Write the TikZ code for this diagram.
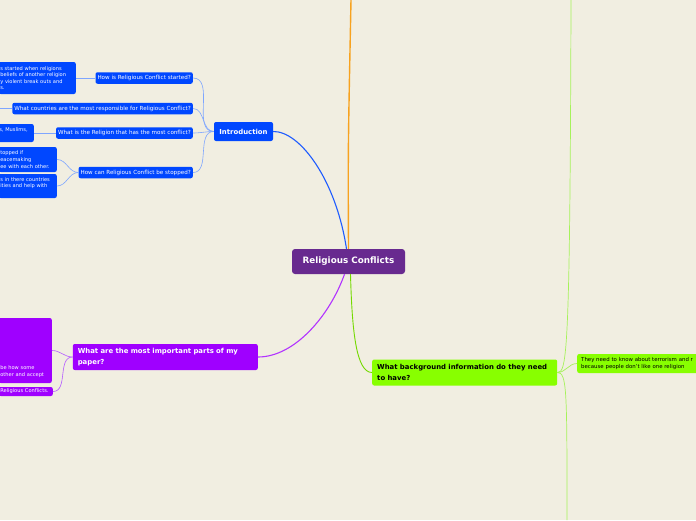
\documentclass[tikz,border=0pt]{standalone}
\usepackage{fontspec}
\setmainfont{DejaVu Sans}
\usetikzlibrary{positioning}
\definecolor{paperbg}{HTML}{F1EEE1}
\definecolor{rootpurple}{HTML}{682A8F}
\definecolor{introblue}{HTML}{0047FF}
\definecolor{linkblue}{HTML}{7FA6FF}
\definecolor{mainblue}{HTML}{1E5BFF}
\definecolor{topicorange}{HTML}{F7A21F}
\definecolor{brightpurple}{HTML}{9F00FF}
\definecolor{linkpurple}{HTML}{B45CFF}
\definecolor{lime}{HTML}{88FF00}
\definecolor{linklime}{HTML}{A6F25A}
\tikzstyle{box} = [rounded corners=2pt, inner xsep=2pt, inner ysep=2pt]
\tikzstyle{leaf} = [box, fill=introblue, text=white, font=\fontsize{5.6}{6.6}\selectfont, minimum height=11.5pt, align=left]
\tikzstyle{answer} = [leaf, inner xsep=1.5pt, font=\fontsize{5.1}{6.6}\selectfont]
\tikzstyle{panswer} = [answer, fill=brightpurple]
\tikzstyle{topic} = [box, inner xsep=5pt, font=\fontsize{6.9}{10.5}\bfseries\selectfont, text width=175pt, minimum height=26pt, align=left]
\tikzstyle{twig} = [draw=linkblue, line width=0.6pt]

\begin{document}
\begin{tikzpicture}[x=1pt, y=-1pt]
    \fill[paperbg] (0,0) rectangle (696,520);
    \useasboundingbox (0,0) rectangle (696,520);
    \clip (0,0) rectangle (696,520);
    % centre and main topics
    \node[box, fill=rootpurple, text=white, font=\fontsize{8.8}{10}\bfseries\selectfont, minimum width=113pt, minimum height=25pt, rounded corners=3pt] (root) at (348.5,261.5) {Religious Conflicts};
    \node[box, fill=introblue, text=white, font=\fontsize{6.9}{8}\bfseries\selectfont, minimum width=59pt, minimum height=19pt] (intro) at (243.5,131.5) {Introduction};
    \node[topic, fill=brightpurple, text=white, anchor=east] (paper) at (258,357) {What are the most important parts of my\\ paper?};
    \node[topic, fill=lime, text=black, anchor=west] (bg) at (372,372.5) {What background information do they need\\ to have?};
    \coordinate (topend) at (351,0);
    \coordinate (bgup) at (571,0);
    \coordinate (bgdown) at (567,520);

    % questions of the introduction
    \node[leaf, anchor=east] (q1) at (193,78) {How is Religious Conflict started?};
    \node[leaf, anchor=east] (q2) at (193,108.5) {What countries are the most responsible for Religious Conflict?};
    \node[leaf, anchor=east] (q3) at (193,133) {What is the Religion that has the most conflict?};
    \node[leaf, anchor=east] (q4) at (193,172.5) {How can Religious Conflict be stopped?};
    \coordinate (a2) at (0,108.5);

    % answers, cut at the left edge
    \node[answer, anchor=east, text width=74pt, minimum height=32pt] (a1) at (76,78) {s started when religions\\ beliefs of another religion\\ y violent break outs and\\ s.};
    \node[answer, anchor=east, text width=33pt, minimum height=18pt] (a3) at (34,133) {s, Muslims,\\ \mbox{}};
    \node[answer, anchor=east, text width=55pt, minimum height=25pt] (a4) at (57,159.5) {topped if\\ eacemaking\\ ee with each other.};
    \node[answer, anchor=east, text width=55pt, minimum height=24pt] (a5) at (57,186) {s in there countries\\ ities and help with\\ \mbox{}};
    \node[panswer, anchor=east, text width=50pt, minimum height=65pt] (p1) at (52,350.5) {\mbox{}\\ \mbox{}\\ \mbox{}\\ \mbox{}\\ \mbox{}\\ \mbox{}\\ \mbox{}\\ be how some\\ other and accept};
    \node[panswer, anchor=east, text width=51pt, minimum height=9pt, inner ysep=1pt, font=\fontsize{5.1}{6}\selectfont] (p2) at (53,391.5) {Religious Conflicts.};
    \node[leaf, fill=lime, text=black, anchor=west, inner xsep=4pt, text width=150pt, minimum height=19pt, font=\fontsize{5.4}{6.6}\selectfont] (r1) at (577,363.5) {They need to know about terrorism and r\\ because people don't like one religion};

    % branches from the centre
    \draw[mainblue, line width=1.1pt] ([xshift=-2pt]root.north) .. controls (336,180) and (300,131) .. (intro.east);
    \draw[topicorange, line width=1.4pt] (root.north) .. controls (348,150) .. (topend);
    \draw[brightpurple!80!white, line width=1.1pt] ([xshift=-4pt]root.south) .. controls (330,315) and (295,357) .. (paper.east);
    \draw[lime!85!black, line width=0.9pt] ([xshift=2pt]root.south) .. controls (352,330) and (356,372.5) .. (bg.west);

    % twigs
    \foreach \q in {q1,q2,q3,q4}
        \draw[twig] (intro.west) to[out=180, in=0] (\q.east);
    \draw[twig] (q1.west) -- (a1.east);
    \draw[twig] (q2.west) -- (a2);
    \draw[twig] (q3.west) -- (a3.east);
    \draw[twig] (q4.west) to[out=180, in=0] (a4.east);
    \draw[twig] (q4.west) to[out=180, in=0] (a5.east);
    \draw[draw=linkpurple, line width=0.6pt] (paper.west) to[out=180, in=0] (p1.east);
    \draw[draw=linkpurple, line width=0.6pt] (paper.west) to[out=180, in=0] (p2.east);
    \draw[linklime, line width=0.7pt] (bg.east) to[out=0, in=180] (r1.west);
    \draw[linklime, line width=0.7pt] (bg.east) .. controls (567,372.5) and (570,355) .. (bgup);
    \draw[linklime, line width=0.7pt] (bg.east) .. controls (567,372.5) and (567,390) .. (bgdown);
\end{tikzpicture}
\end{document}
